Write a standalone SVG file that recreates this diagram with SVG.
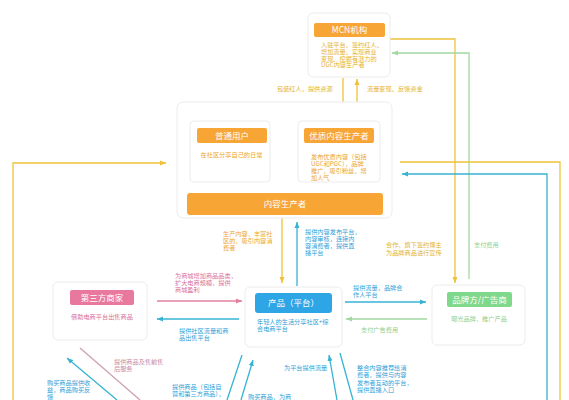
<svg xmlns="http://www.w3.org/2000/svg" width="569" height="400" viewBox="0 0 569 400">
<defs>
<marker id="aY" markerUnits="userSpaceOnUse" markerWidth="6" markerHeight="6" refX="6" refY="3" orient="auto"><path d="M0,0.5 L6,3 L0,5.5 z" fill="#f0c23a"/></marker>
<marker id="aB" markerUnits="userSpaceOnUse" markerWidth="6" markerHeight="6" refX="6" refY="3" orient="auto"><path d="M0,0.5 L6,3 L0,5.5 z" fill="#36b3d3"/></marker>
<marker id="aG" markerUnits="userSpaceOnUse" markerWidth="6" markerHeight="6" refX="6" refY="3" orient="auto"><path d="M0,0.5 L6,3 L0,5.5 z" fill="#a3d8a3"/></marker>
<marker id="aP" markerUnits="userSpaceOnUse" markerWidth="6" markerHeight="6" refX="6" refY="3" orient="auto"><path d="M0,0.5 L6,3 L0,5.5 z" fill="#e3819f"/></marker>
</defs>
<style>
text{font-family:"Noto Sans CJK SC","Noto Sans",sans-serif;}
.card{fill:#fff;stroke:#ececec;stroke-width:1;}
.hd{font-size:8.5px;fill:#fff;text-anchor:middle;}
.sm{font-size:6.2px;}
.mid{text-anchor:middle;}
.ho{fill:#f7a535;}
.hb{fill:#2ea6e6;}
.hp{fill:#e9789f;}
.hg{fill:#7fd88c;}
.to{fill:#eea52a;}
.ty{fill:#e4b22c;}
.tb{fill:#2d9fd8;}
.tp{fill:#d9709a;}
.tg{fill:#8fcf8f;}
.tm{fill:#c98aa5;}
.ln{fill:none;stroke-width:1.3;}
.ly{stroke:#f0c23a;}
.lb{stroke:#36b3d3;}
.lg{stroke:#a3d8a3;}
.lp{stroke:#e3819f;}
.lm{stroke:#cfa0b4;}
</style>
<rect width="569" height="400" fill="#fff"/>

<g id="connectors">
<path class="ln ly" d="M343,78 V113" marker-end="url(#aY)"/>
<path class="ln ly" d="M357,113 V79" marker-end="url(#aY)"/>
<path class="ln ly" d="M390,39 H455 V283" marker-end="url(#aY)"/>
<path class="ln lg" d="M469,279 V53 H392" marker-end="url(#aG)"/>
<path class="ln ly" d="M282,218 V283" marker-end="url(#aY)"/>
<path class="ln lb" d="M297,286 V222" marker-end="url(#aB)"/>
<path class="ln lp" d="M157,301 H242" marker-end="url(#aP)"/>
<path class="ln lb" d="M239,319 H157" marker-end="url(#aB)"/>
<path class="ln lb" d="M345,302 H426" marker-end="url(#aB)"/>
<path class="ln lg" d="M427,319 H346" marker-end="url(#aG)"/>
<path class="ln ly" d="M400,162 H560 V400"/>
<path class="ln lb" d="M547,400 V174 H402" marker-end="url(#aB)"/>
<path class="ln ly" d="M13,400 V163 H166" marker-end="url(#aY)"/>
<path class="ln lm" d="M80,348 L140,400"/>
<path class="ln lb" d="M117,400 L67,358" marker-end="url(#aB)"/>
<path class="ln lb" d="M242,355 L227,400"/>
<path class="ln lb" d="M241,400 L253,360" marker-end="url(#aB)"/>
<path class="ln lb" d="M337,400 L329,355" marker-end="url(#aB)"/>
<path class="ln lb" d="M340,353 L353,400"/>

<text class="sm ty" x="277" y="91">包装红人，提供资源</text>
<text class="sm ty" x="367" y="91">流量变现、反馈资金</text>
<text class="sm ty" x="386" y="247">合作，旗下签约博主<tspan x="386" dy="8">为品牌商品进行宣传</tspan></text>
<text class="sm tg" x="474" y="247">支付费用</text>
<text class="sm to" x="223" y="236">生产内容，丰富社<tspan x="223" dy="7">区的，吸引内容消</tspan><tspan x="223" dy="7">费者</tspan></text>
<text class="sm tb" x="305" y="234">提供内容发布平台，<tspan x="305" dy="7">内容审核，连接内</tspan><tspan x="305" dy="7">容消费者，提供直</tspan><tspan x="305" dy="7">播平台</tspan></text>
<text class="sm tp" x="175" y="278">为商城增加商品品类，<tspan x="175" dy="7">扩大电商规模，提供</tspan><tspan x="175" dy="7">商城盈利</tspan></text>
<text class="sm tb" x="179" y="333">提供社区流量和商<tspan x="179" dy="7">品出售平台</tspan></text>
<text class="sm tb" x="353" y="290">提供流量，品牌合<tspan x="353" dy="7">作人平台</tspan></text>
<text class="sm tg" x="361" y="332">支付广告费用</text>
<text class="sm tm" x="114" y="364">提供商品及售前售<tspan x="114" dy="7">后服务</tspan></text>
<text class="sm tb" x="47" y="385">购买商品提供收<tspan x="47" dy="7">益，商品购买反</tspan><tspan x="47" dy="6.5">馈</tspan></text>
<text class="sm tb" x="172" y="389">提供商品（包括自<tspan x="172" dy="7">营和第三方商品），</tspan></text>
<text class="sm tb" x="248" y="398.5">购买商品，为商</text>
<text class="sm tb" x="284" y="370">为平台提供流量</text>
<text class="sm tb" x="357" y="369.5">整合内容推荐给消<tspan x="357" dy="7.5">费者，提供与内容</tspan><tspan x="357" dy="7.5">发布者互动的平台，</tspan><tspan x="357" dy="7.5">提供直播入口</tspan></text>
</g>

<g id="mcn">
<rect class="card" x="308" y="13" width="82" height="64" rx="5"/>
<rect class="ho" x="314" y="23" width="71" height="14" rx="2"/>
<text class="hd" x="349.5" y="33">MCN机构</text>
<text class="sm ty" x="321" y="47.3">入驻平台、签约红人、<tspan x="321" dy="6.7">增加流量、实现商业</tspan><tspan x="321" dy="6.6">变现、挖掘有潜力的</tspan><tspan x="321" dy="6.7">UGC内容生产者</tspan></text>
</g>

<g id="content-producers">
<rect class="card" x="177" y="102" width="215" height="116" rx="6"/>
<g id="ordinary-user">
<rect class="card" x="190" y="121" width="80" height="61" rx="4"/>
<rect class="ho" x="197" y="128" width="70" height="15" rx="2"/>
<text class="hd" x="232" y="138.5">普通用户</text>
<text class="sm to mid" x="231.5" y="157">在社区分享自己的日常</text>
</g>
<g id="quality-producer">
<rect class="card" x="298" y="121" width="82" height="61" rx="4"/>
<rect class="ho" x="304" y="128" width="70" height="15" rx="2"/>
<text class="hd" x="339" y="138.5">优质内容生产者</text>
<text class="sm to" x="311" y="159">发布优质内容（包括<tspan x="311" dy="7">UGC和PGC），品牌</tspan><tspan x="311" dy="7">推广，吸引粉丝，增</tspan><tspan x="311" dy="7">加人气</tspan></text>
</g>
<rect class="ho" x="187" y="193" width="196" height="22" rx="3"/>
<text class="hd" x="285" y="207">内容生产者</text>
</g>

<g id="product">
<rect class="card" x="245" y="287" width="97" height="60" rx="5"/>
<rect class="hb" x="255" y="293" width="77" height="20" rx="3"/>
<text class="hd" x="293.5" y="306">产品（平台）</text>
<text class="sm tb" x="257" y="324">年轻人的生活分享社区+综<tspan x="257" dy="7">合电商平台</tspan></text>
</g>

<g id="merchant">
<rect class="card" x="53" y="282" width="94" height="58" rx="5"/>
<rect class="hp" x="70" y="290" width="64" height="15" rx="2"/>
<text class="hd" x="102" y="300.5">第三方商家</text>
<text class="sm tp mid" x="102" y="319">借助电商平台出售商品</text>
</g>

<g id="brand">
<rect class="card" x="432" y="285" width="93" height="60" rx="5"/>
<rect class="hg" x="447" y="292" width="65" height="15" rx="2"/>
<text class="hd" x="479.5" y="302.5">品牌方/广告商</text>
<text class="sm tg mid" x="479" y="321">曝光品牌，推广产品</text>
</g>
</svg>
